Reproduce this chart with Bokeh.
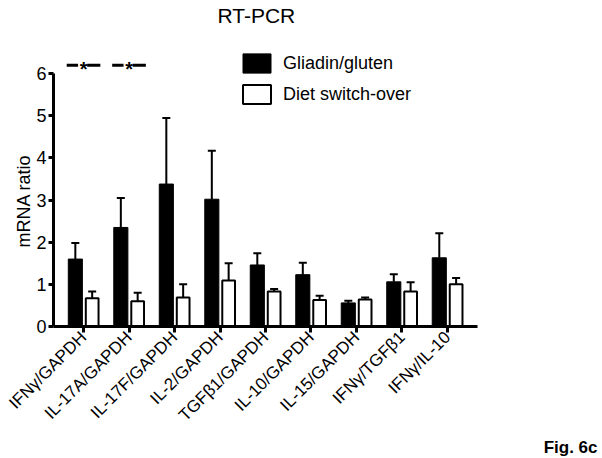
import math
from bokeh.plotting import figure
from bokeh.models import (ColumnDataSource, FactorRange, Range1d, Whisker, TeeHead,
                          Legend, LegendItem, Title, FixedTicker)
from bokeh.transform import dodge
from bokeh.embed import file_html
from bokeh.resources import INLINE

# ---- data ----
categories = ["IFNγ/GAPDH", "IL-17A/GAPDH", "IL-17F/GAPDH", "IL-2/GAPDH", "TGFβ1/GAPDH",
              "IL-10/GAPDH", "IL-15/GAPDH", "IFNγ/TGFβ1", "IFNγ/IL-10"]
gliadin = [1.60, 2.35, 3.38, 3.02, 1.46, 1.23, 0.56, 1.06, 1.63]
gliadin_err = [0.38, 0.70, 1.57, 1.15, 0.28, 0.28, 0.05, 0.18, 0.58]
diet = [0.67, 0.60, 0.69, 1.09, 0.83, 0.63, 0.64, 0.83, 1.00]
diet_err = [0.16, 0.20, 0.31, 0.41, 0.06, 0.10, 0.05, 0.22, 0.15]
sig_categories = ["IFNγ/GAPDH", "IL-17A/GAPDH"]
sig_level = [6.2, 6.2]
sig_marks = ["*", "*"]
y_ticks = [0, 1, 2, 3, 4, 5, 6]

FONT = "Liberation Sans"

src = ColumnDataSource(dict(
    cat=categories,
    g=gliadin,
    g_up=[v + e for v, e in zip(gliadin, gliadin_err)],
    d=diet,
    d_up=[v + e for v, e in zip(diet, diet_err)],
))
sig_src = ColumnDataSource(dict(cat=sig_categories, y=sig_level, mark=sig_marks))

p = figure(x_range=FactorRange(factors=categories, range_padding=0.16,
                               range_padding_units="absolute"),
           y_range=Range1d(0, 7),
           width=600, height=458,
           output_backend="svg", toolbar_location=None,
           min_border_left=53, min_border_right=123,
           min_border_top=30, min_border_bottom=132)
p.outline_line_color = None
p.xgrid.grid_line_color = None
p.ygrid.grid_line_color = None
p.background_fill_color = "white"
p.border_fill_color = "white"

# title
p.title.text = "RT-PCR"
p.title.align = "left"
p.title.offset = 164
p.title.vertical_align = "top"
p.title.standoff = 6
p.title.text_font = FONT
p.title.text_font_size = "21px"
p.title.text_font_style = "normal"
p.title.text_color = "black"

rb = p.vbar(x=dodge("cat", -0.18, range=p.x_range), top="g", width=0.31, source=src,
            fill_color="black", line_color="black", line_width=1)
rw = p.vbar(x=dodge("cat", 0.19, range=p.x_range), top="d", width=0.28, source=src,
            fill_color="white", line_color="black", line_width=2)

for base, low, up in [(-0.18, "g", "g_up"), (0.19, "d", "d_up")]:
    w = Whisker(base=dodge("cat", base, range=p.x_range), lower=low, upper=up, source=src,
                line_color="black", line_width=2,
                upper_head=TeeHead(size=8, line_width=2, line_color="black"),
                lower_head=None)
    p.add_layout(w)

# significance marks
p.segment(x0=dodge("cat", -0.37, range=p.x_range), y0="y",
          x1=dodge("cat", -0.12, range=p.x_range), y1="y",
          source=sig_src, line_color="black", line_width=3)
p.segment(x0=dodge("cat", 0.08, range=p.x_range), y0="y",
          x1=dodge("cat", 0.37, range=p.x_range), y1="y",
          source=sig_src, line_color="black", line_width=3)
p.text(x="cat", y="y", text="mark", source=sig_src, text_align="center",
       text_baseline="middle", text_font_size="20px", text_font_style="bold",
       text_color="black", y_offset=4, text_font={"value": FONT})

# axes
for ax in (p.xaxis, p.yaxis):
    ax.axis_line_width = 3
    ax.axis_line_color = "black"
    ax.major_tick_line_width = 3
    ax.major_tick_line_color = "black"
    ax.major_tick_in = 0
    ax.minor_tick_line_color = None
    ax.major_label_text_color = "black"
    ax.major_label_text_font = FONT

p.yaxis.bounds = (0, 6)
p.yaxis.ticker = FixedTicker(ticks=y_ticks)
p.yaxis.major_tick_out = 5
p.yaxis.major_label_text_font_size = "18px"
p.yaxis.major_label_standoff = 2

p.xaxis.major_tick_out = 6
p.xaxis.major_label_orientation = math.pi / 4
p.xaxis.major_label_text_font_size = "17px"
p.xaxis.major_label_standoff = 2

legend = Legend(items=[LegendItem(label="Gliadin/gluten", renderers=[rb]),
                       LegendItem(label="Diet switch-over", renderers=[rw])],
                location=(186, 220), orientation="vertical",
                border_line_color=None, background_fill_alpha=0,
                padding=0, margin=0, spacing=7,
                glyph_width=35, glyph_height=24, label_height=24,
                label_standoff=9, label_text_font_size="18px",
                label_text_font=FONT, label_text_color="black")
p.add_layout(legend)

ylab = Title(text="mRNA ratio", align="left", offset=79, standoff=0,
             text_font=FONT, text_font_size="18px", text_font_style="normal",
             text_color="black")
p.add_layout(ylab, "left")

fig_tag = Title(text="Fig. 6c", align="right", offset=-120, standoff=2,
                text_font=FONT, text_font_size="17px", text_font_style="bold",
                text_color="black")
p.add_layout(fig_tag, "below")

open("out.html", "w").write(file_html(p, INLINE))
